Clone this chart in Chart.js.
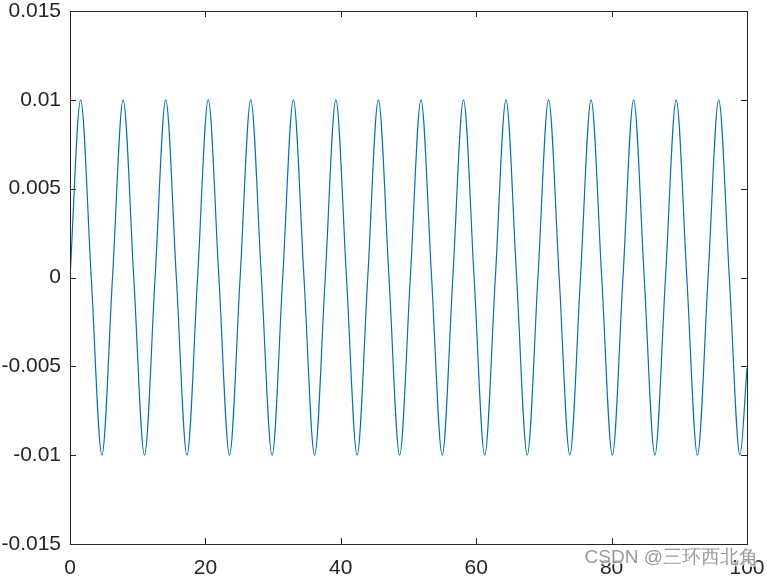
<!DOCTYPE html>
<html lang="en">
<head>
    <meta charset="UTF-8">
    <title>Sine wave</title>
    <script src="https://cdn.jsdelivr.net/npm/chart.js@4.4.1/dist/chart.umd.min.js"></script>
    <style>
        body { margin: 0; background: #fff; }
        #wrap { width: 767px; height: 577px; }
    </style>
</head>
<body>
    <div id="wrap"><canvas id="chart" width="767" height="577"></canvas></div>

    <script>
        // peaks, troughs and zero crossings
        const xValues = [0, 1.57, 3.14, 4.71, 6.28, 7.85, 9.42, 11.0, 12.57, 14.14, 15.71, 17.28, 18.85, 20.42, 21.99, 23.56,
            25.13, 26.7, 28.27, 29.85, 31.42, 32.99, 34.56, 36.13, 37.7, 39.27, 40.84, 42.41, 43.98, 45.55, 47.12, 48.69,
            50.27, 51.84, 53.41, 54.98, 56.55, 58.12, 59.69, 61.26, 62.83, 64.4, 65.97, 67.54, 69.12, 70.69, 72.26, 73.83,
            75.4, 76.97, 78.54, 80.11, 81.68, 83.25, 84.82, 86.39, 87.96, 89.54, 91.11, 92.68, 94.25, 95.82, 97.39, 98.96, 100];
        const yValues = [0, 0.01, 0, -0.01, 0, 0.01, 0, -0.01, 0, 0.01, 0, -0.01, 0, 0.01, 0, -0.01,
            0, 0.01, 0, -0.01, 0, 0.01, 0, -0.01, 0, 0.01, 0, -0.01, 0, 0.01, 0, -0.01,
            0, 0.01, 0, -0.01, 0, 0.01, 0, -0.01, 0, 0.01, 0, -0.01, 0, 0.01, 0, -0.01,
            0, 0.01, 0, -0.01, 0, 0.01, 0, -0.01, 0, 0.01, 0, -0.01, 0, 0.01, 0, -0.01, -0.0051];
        const xTicks = [0, 20, 40, 60, 80, 100];
        const yTicks = [-0.015, -0.01, -0.005, 0, 0.005, 0.01, 0.015];
        const yTickLabels = ['-0.015', '-0.01', '-0.005', '0', '0.005', '0.01', '0.015'];

        const FONT = '"Liberation Sans", Arial, sans-serif';
        const points = xValues.map((x, i) => ({ x: x, y: yValues[i] }));

        // matlab style box with inward ticks on all four sides
        const boxPlugin = {
            id: 'box',
            afterDraw(chart) {
                const ctx = chart.ctx;
                const a = chart.chartArea;
                const xs = chart.scales.x, ys = chart.scales.y;
                const len = 6;
                ctx.save();
                ctx.strokeStyle = '#262626';
                ctx.lineWidth = 1;
                ctx.strokeRect(a.left + 0.5, a.top + 0.5, a.right - a.left, a.bottom - a.top);
                ctx.beginPath();
                xTicks.forEach(v => {
                    const px = Math.round(xs.getPixelForValue(v)) + 0.5;
                    ctx.moveTo(px, a.bottom); ctx.lineTo(px, a.bottom - len);
                    ctx.moveTo(px, a.top); ctx.lineTo(px, a.top + len);
                });
                yTicks.forEach(v => {
                    const py = Math.round(ys.getPixelForValue(v)) + 0.5;
                    ctx.moveTo(a.left, py); ctx.lineTo(a.left + len, py);
                    ctx.moveTo(a.right, py); ctx.lineTo(a.right - len, py);
                });
                ctx.stroke();

                // watermark
                ctx.font = '19px ' + FONT;
                ctx.textAlign = 'right';
                ctx.textBaseline = 'alphabetic';
                ctx.lineWidth = 3;
                ctx.strokeStyle = 'rgba(255,255,255,0.7)';
                ctx.strokeText('CSDN @三环西北角', 758, 563);
                ctx.fillStyle = 'rgba(120,120,120,0.75)';
                ctx.fillText('CSDN @三环西北角', 758, 563);
                ctx.restore();
            }
        };

        new Chart(document.getElementById('chart'), {
            type: 'scatter',
            data: {
                datasets: [{
                    data: points,
                    showLine: true,
                    borderColor: '#0072BD',
                    borderWidth: 1.2,
                    pointRadius: 0,
                    cubicInterpolationMode: 'monotone'
                }]
            },
            options: {
                responsive: false,
                animation: false,
                devicePixelRatio: 1,
                layout: { padding: { top: 11, right: 20, left: 0, bottom: 0 } },
                plugins: { legend: { display: false }, tooltip: { enabled: false } },
                scales: {
                    x: {
                        type: 'linear', min: 0, max: 100,
                        afterBuildTicks: s => { s.ticks = xTicks.map(v => ({ value: v })); },
                        afterFit: s => { s.height = 33; s.paddingLeft = 0; s.paddingRight = 0; },
                        grid: { display: false, drawTicks: false },
                        border: { display: false },
                        ticks: { color: '#262626', font: { family: FONT, size: 21 }, padding: 12, maxRotation: 0 }
                    },
                    y: {
                        type: 'linear', min: -0.015, max: 0.015,
                        afterBuildTicks: s => { s.ticks = yTicks.map(v => ({ value: v })); },
                        afterFit: s => { s.width = 70; s.paddingTop = 0; s.paddingBottom = 0; },
                        grid: { display: false, drawTicks: false },
                        border: { display: false },
                        ticks: {
                            color: '#262626', font: { family: FONT, size: 21 }, padding: 9,
                            callback: (v, i) => yTickLabels[i]
                        }
                    }
                }
            },
            plugins: [boxPlugin]
        });
    </script>
</body>
</html>
